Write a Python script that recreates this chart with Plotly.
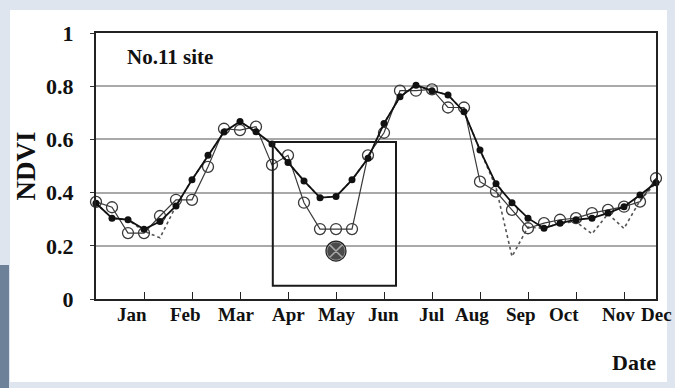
import plotly.graph_objects as go

# Ten-day composite index through the year (36 composites, Jan..Dec)
composite = list(range(36))

# NDVI time series for site No.11
ndvi_fitted = [0.36, 0.304, 0.298, 0.262, 0.291, 0.35, 0.448, 0.54, 0.628, 0.667,
               0.629, 0.583, 0.513, 0.444, 0.381, 0.385, 0.448, 0.529, 0.66, 0.76,
               0.804, 0.783, 0.767, 0.704, 0.56, 0.433, 0.362, 0.304, 0.266, 0.285,
               0.298, 0.304, 0.323, 0.347, 0.391, 0.437]
ndvi_reconstructed = [0.365, 0.345, 0.248, 0.248, 0.312, 0.373, 0.373, 0.497, 0.64, 0.635,
                      0.648, 0.504, 0.54, 0.362, 0.263, 0.263, 0.263, 0.54, 0.625, 0.783,
                      0.783, 0.788, 0.72, 0.72, 0.441, 0.404, 0.335, 0.266, 0.285, 0.298,
                      0.304, 0.323, 0.335, 0.347, 0.366, 0.454]
ndvi_raw = [0.36, 0.304, 0.298, 0.255, 0.23, 0.35, 0.448, 0.54, 0.628, 0.667,
            0.629, 0.583, 0.513, 0.444, 0.381, 0.385, 0.448, 0.529, 0.66, 0.76,
            0.804, 0.783, 0.767, 0.704, 0.56, 0.42, 0.16, 0.27, 0.266, 0.285,
            0.29, 0.245, 0.32, 0.265, 0.37, 0.437]

# Field observation
field_composite = [15]
field_ndvi = [0.18]

# Month labels and where they sit along the composite axis
months = ["Jan", "Feb", "Mar", "Apr", "May", "Jun", "Jul", "Aug", "Sep", "Oct", "Nov", "Dec"]
month_label_pos = [2.27, 5.57, 8.78, 12.05, 15.06, 17.94, 20.95, 23.49, 26.58, 29.27, 32.65, 35.05]
month_ticks = [3, 6, 9, 12, 15, 18, 21, 24, 27, 30, 33]
y_ticks = [0, 0.2, 0.4, 0.6, 0.8, 1]
y_tick_text = ["0", "0.2", "0.4", "0.6", "0.8", "1"]

SERIF = "Liberation Serif, Times New Roman, serif"
X_MAX = 35

fig = go.Figure()

fig.add_trace(go.Scatter(
    x=composite, y=ndvi_raw, mode="lines",
    line=dict(color="#555555", width=1.6, dash="dot"),
    cliponaxis=False, showlegend=False, hoverinfo="skip"))

fig.add_trace(go.Scatter(
    x=composite, y=ndvi_reconstructed, mode="lines+markers",
    line=dict(color="#3a3a3a", width=1.2),
    marker=dict(symbol="circle-open", size=11, color="#3a3a3a", line=dict(width=1.3)),
    cliponaxis=False, showlegend=False))

fig.add_trace(go.Scatter(
    x=composite, y=ndvi_fitted, mode="lines+markers",
    line=dict(color="#111111", width=1.8),
    marker=dict(symbol="circle", size=7, color="#111111"),
    cliponaxis=False, showlegend=False))

fig.add_trace(go.Scatter(
    x=field_composite, y=field_ndvi, mode="markers",
    marker=dict(symbol="circle-x", size=19, color="#4a4a4a",
                line=dict(color="#a8a8a8", width=1.5)),
    cliponaxis=False, showlegend=False))
fig.add_trace(go.Scatter(
    x=field_composite, y=field_ndvi, mode="markers",
    marker=dict(symbol="circle-open", size=20, color="#222222", line=dict(width=1.2)),
    cliponaxis=False, showlegend=False))

shapes = [
    # page backdrop and white chart card
    dict(type="rect", xref="paper", yref="paper", x0=-0.2, x1=1.1, y0=-0.4, y1=1.15,
         fillcolor="#dfe5ee", line=dict(width=0), layer="below"),
    dict(type="rect", xref="paper", yref="paper",
         x0=(10 - 96) / 560, x1=(667 - 96) / 560,
         y0=(299 - 382) / 266, y1=(299 - 10) / 266,
         fillcolor="white", line=dict(width=0), layer="below"),
    dict(type="rect", xref="paper", yref="paper",
         x0=(0 - 96) / 560, x1=(9 - 96) / 560,
         y0=(299 - 388) / 266, y1=(299 - 265) / 266,
         fillcolor="#6d8299", line=dict(width=0), layer="below"),
    # highlighted spring window
    dict(type="rect", xref="x", yref="y", x0=11.05, x1=18.75, y0=0.05, y1=0.59,
         line=dict(color="#1a1a1a", width=2), fillcolor="rgba(0,0,0,0)"),
]

annotations = [
    dict(x=mx / X_MAX, y=-0.06, xref="paper", yref="paper", text=m, showarrow=False,
         xanchor="center", yanchor="middle",
         font=dict(family=SERIF, size=19, color="#111111", weight="bold"))
    for m, mx in zip(months, month_label_pos)
]
annotations.append(dict(x=1.8, y=0.91, xref="x", yref="paper", text="No.11 site",
                        showarrow=False, xanchor="left", yanchor="middle",
                        font=dict(family=SERIF, size=21, color="#111111", weight="bold")))
annotations.append(dict(x=(658 - 96) / 560, y=(299 - 362) / 266, xref="paper", yref="paper",
                        text="Date", showarrow=False, xanchor="right", yanchor="middle",
                        font=dict(family=SERIF, size=22, color="#111111", weight="bold")))

fig.update_layout(
    width=675, height=388,
    margin=dict(l=96, r=19, t=33, b=89),
    paper_bgcolor="#dfe5ee", plot_bgcolor="white",
    shapes=shapes, annotations=annotations,
    xaxis=dict(range=[0, X_MAX], tickvals=month_ticks, showticklabels=False,
               ticks="inside", ticklen=7, tickcolor="#222222", tickwidth=1.3,
               showgrid=False, zeroline=False,
               showline=True, linecolor="#222222", linewidth=2, mirror=True),
    yaxis=dict(range=[0, 1], tickvals=y_ticks, ticktext=y_tick_text,
               ticks="outside", ticklen=4, tickcolor="#333333",
               ticklabelstandoff=12,
               tickfont=dict(family=SERIF, size=22, color="#111111", weight="bold"),
               showgrid=True, gridcolor="#a9a9a9", gridwidth=1.5, zeroline=False,
               showline=True, linecolor="#222222", linewidth=2, mirror=True,
               title=dict(text="NDVI", standoff=3,
                          font=dict(family=SERIF, size=27, color="#111111", weight="bold"))),
)

fig.write_html("out.html")
